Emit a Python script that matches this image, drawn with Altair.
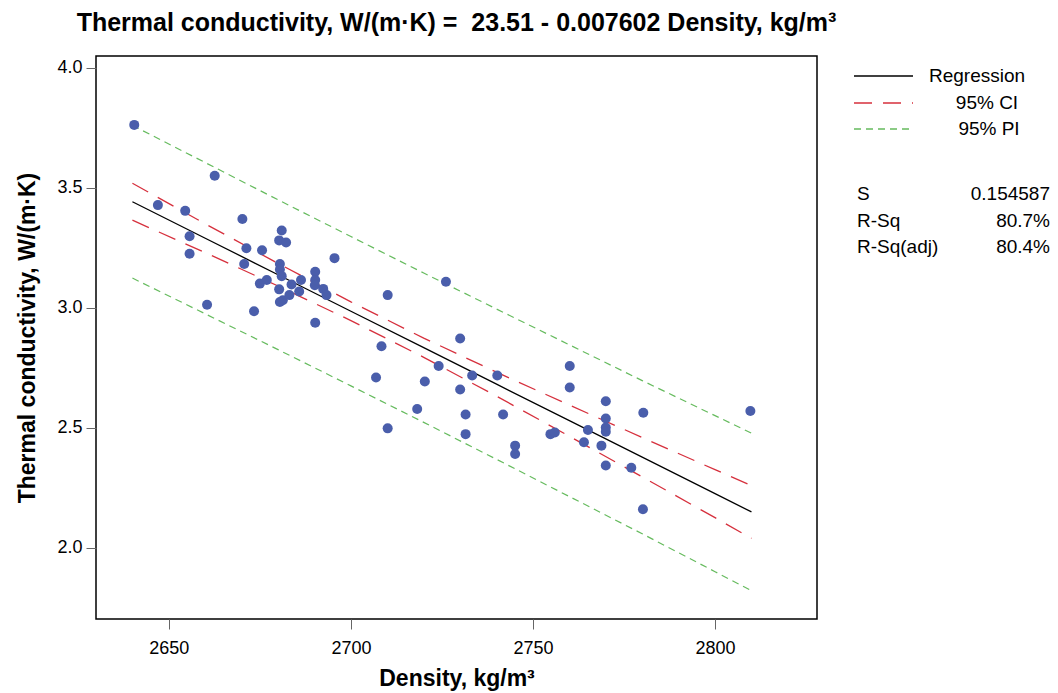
import altair as alt
import pandas as pd

# ---- data ----
density = [2640.5, 2647.0, 2654.5, 2655.7, 2655.7, 2660.5, 2662.6, 2670.2, 2671.3, 2670.7,
           2673.4, 2675.6, 2675.0, 2676.9, 2681.0, 2680.3, 2682.2, 2680.5, 2680.5, 2681.0,
           2680.3, 2681.3, 2680.5, 2683.7, 2683.1, 2685.8, 2686.3, 2690.2, 2690.2, 2690.1,
           2692.4, 2693.3, 2690.2, 2695.5, 2706.9, 2708.4, 2710.1, 2710.1, 2718.2, 2720.3,
           2724.1, 2726.1, 2730.0, 2730.0, 2731.5, 2731.5, 2733.3, 2740.2, 2741.8, 2745.1,
           2745.1, 2754.8, 2756.0, 2760.1, 2760.1, 2764.0, 2765.1, 2768.8, 2770.0, 2770.0,
           2770.0, 2770.0, 2770.0, 2777.0, 2780.3, 2780.2, 2809.7]
conductivity = [3.761, 3.427, 3.403, 3.297, 3.224, 3.012, 3.549, 3.369, 3.247, 3.182,
                2.985, 3.239, 3.100, 3.115, 3.321, 3.280, 3.271, 3.182, 3.159, 3.131,
                3.076, 3.031, 3.023, 3.096, 3.052, 3.067, 3.115, 3.149, 3.115, 3.093,
                3.078, 3.052, 2.937, 3.206, 2.709, 2.839, 3.052, 2.497, 2.578, 2.692,
                2.757, 3.108, 2.871, 2.659, 2.555, 2.473, 2.717, 2.717, 2.555, 2.425,
                2.390, 2.473, 2.480, 2.757, 2.667, 2.439, 2.490, 2.425, 2.610, 2.538,
                2.501, 2.483, 2.342, 2.333, 2.562, 2.160, 2.569]

curve_x = [2640, 2660, 2680, 2700, 2720, 2740, 2760, 2780, 2800, 2810]
fit_y = [3.441, 3.289, 3.137, 2.985, 2.833, 2.681, 2.529, 2.377, 2.225, 2.149]
ci_upper = [3.518, 3.349, 3.184, 3.024, 2.873, 2.731, 2.594, 2.459, 2.325, 2.259]
ci_lower = [3.364, 3.229, 3.090, 2.946, 2.793, 2.631, 2.464, 2.295, 2.125, 2.039]
pi_upper = [3.759, 3.604, 3.449, 3.296, 3.144, 2.994, 2.845, 2.696, 2.550, 2.477]
pi_lower = [3.123, 2.974, 2.825, 2.674, 2.522, 2.368, 2.213, 2.058, 1.900, 1.821]

x_ticks = [2650, 2700, 2750, 2800]
y_ticks = [2.0, 2.5, 3.0, 3.5, 4.0]

legend_labels = ["Regression", "95% CI", "95% PI"]
stat_names = ["S", "R-Sq", "R-Sq(adj)"]
stat_values = ["0.154587", "80.7%", "80.4%"]

title_text = "Thermal conductivity, W/(m\u00b7K) = \u00a023.51 - 0.007602 Density, kg/m\u00b3"
x_title = "Density, kg/m\u00b3"
y_title = "Thermal conductivity, W/(m\u00b7K)"

# ---- styling ----
FONT = "Liberation Sans"
BLUE = "#4a5eab"
RED = "#d6303d"
GREEN = "#66bb5e"
CI_DASH = [18, 11]
PI_DASH = [7, 5]
TXT = 19

pts = pd.DataFrame({"x": density, "y": conductivity})
fit = pd.DataFrame({"x": curve_x, "y": fit_y})
ci = pd.concat([
    pd.DataFrame({"x": curve_x, "y": ci_upper, "s": "upper"}),
    pd.DataFrame({"x": curve_x, "y": ci_lower, "s": "lower"}),
])
pi = pd.concat([
    pd.DataFrame({"x": curve_x, "y": pi_upper, "s": "upper"}),
    pd.DataFrame({"x": curve_x, "y": pi_lower, "s": "lower"}),
])

xs = alt.Scale(domain=[2630, 2828], nice=False, zero=False)
ys = alt.Scale(domain=[1.703, 4.048], nice=False, zero=False)

X = alt.X("x:Q", scale=xs, title=x_title,
          axis=alt.Axis(values=x_ticks, format="d", grid=False, domain=False,
                        tickSize=10, tickColor="#666", tickWidth=1,
                        labelFontSize=18, labelPadding=10, labelColor="black", labelFont=FONT,
                        titleFontSize=23, titleFont=FONT, titleFontWeight="bold",
                        titleColor="black", titlePadding=10))
Y = alt.Y("y:Q", scale=ys, title=y_title,
          axis=alt.Axis(values=y_ticks, format=".1f", grid=False, domain=False,
                        tickSize=10, tickColor="#666", tickWidth=1,
                        labelFontSize=18, labelPadding=4, labelColor="black", labelFont=FONT,
                        titleFontSize=23, titleFont=FONT, titleFontWeight="bold",
                        titleColor="black", titlePadding=17))

pi_layer = alt.Chart(pi).mark_line(color=GREEN, strokeWidth=1.2, strokeDash=PI_DASH).encode(
    x=X, y=Y, detail="s:N")
ci_layer = alt.Chart(ci).mark_line(color=RED, strokeWidth=1.3, strokeDash=CI_DASH).encode(
    x="x:Q", y="y:Q", detail="s:N")
fit_layer = alt.Chart(fit).mark_line(color="black", strokeWidth=1.3).encode(x="x:Q", y="y:Q")
pt_layer = alt.Chart(pts).mark_circle(size=100, color=BLUE, opacity=1).encode(x="x:Q", y="y:Q")

# ---- legend (drawn to the right of the plot) ----
one = pd.DataFrame({"a": [0]})
LX1, LX2 = 758, 817
rows = [20, 47, 73]
text_cx = [881, 891, 893]
styles = [("black", None), (RED, CI_DASH), (GREEN, PI_DASH)]
legend_layers = []
for lab, yy, cx, (col, dash) in zip(legend_labels, rows, text_cx, styles):
    kw = dict(color=col, strokeWidth=1.3)
    if dash:
        kw["strokeDash"] = dash
    legend_layers.append(
        alt.Chart(one).mark_rule(**kw).encode(
            x=alt.value(LX1), x2=alt.value(LX2), y=alt.value(yy)))
    legend_layers.append(
        alt.Chart(pd.DataFrame({"t": [lab]})).mark_text(
            font=FONT, fontSize=TXT, color="black", align="center", baseline="middle").encode(
            text="t:N", x=alt.value(cx), y=alt.value(yy)))

srows = [138, 165, 191]
stats_layers = []
for name, val, yy in zip(stat_names, stat_values, srows):
    stats_layers.append(
        alt.Chart(pd.DataFrame({"t": [name]})).mark_text(
            font=FONT, fontSize=TXT, color="black", align="left", baseline="middle").encode(
            text="t:N", x=alt.value(761), y=alt.value(yy)))
    stats_layers.append(
        alt.Chart(pd.DataFrame({"t": [val]})).mark_text(
            font=FONT, fontSize=TXT, color="black", align="right", baseline="middle").encode(
            text="t:N", x=alt.value(954), y=alt.value(yy)))

chart = alt.layer(pi_layer, ci_layer, fit_layer, pt_layer, *legend_layers, *stats_layers).properties(
    width=721, height=563,
    title=alt.TitleParams(title_text, font=FONT, fontSize=25, fontWeight="bold", color="black",
                          anchor="middle", frame="group", offset=20),
    autosize=alt.AutoSizeParams(type="none"),
    padding={"left": 96, "top": 56, "right": 241, "bottom": 74},
).configure(
    background="white",
    view=alt.ViewConfig(stroke="black", strokeWidth=1.5),
)

chart.save("out.html", embed_options={"renderer": "svg", "actions": False})
